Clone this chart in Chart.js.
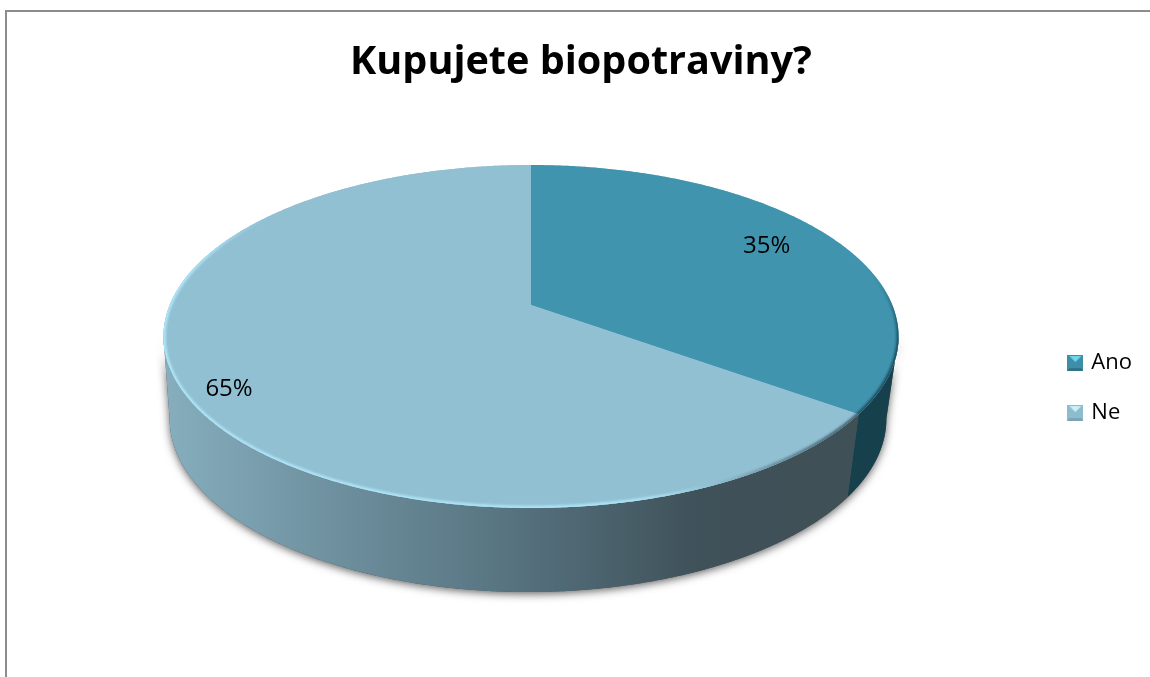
<!DOCTYPE html>
<html><head><meta charset="utf-8">
<style>html,body{margin:0;padding:0;background:#fff;overflow:hidden;width:1150px;height:677px}canvas{display:block}</style>
<script src="https://cdn.jsdelivr.net/npm/chart.js@4"></script>
</head><body><canvas id="c" width="1162" height="677"></canvas>
<script>
const titleText = 'Kupujete biopotraviny?';
const categories = ['Ano', 'Ne'];
const values = [35, 65];
const topColors = ['#4094ae', '#92c0d3'];
const sideColors = ['#17404d', null];
const FONT = '"Open Sans"';

// perspective projection of the pie disc
const G = {cx:531, cy:305, rx:361.3, ry:165.7, k:0.1837, bcx:528, bx:0.975, by:1.01, bcy:387};
function proj(theta, f, bottom){
  const u = Math.sin(theta)*f, v = -Math.cos(theta)*f, d = 1 - G.k*v;
  if (bottom) return [G.bcx + G.bx*G.rx*u/d, G.bcy + G.by*G.ry*v/d];
  return [G.cx + G.rx*u/d, G.cy + G.ry*v/d];
}
function arcPts(ctx, a, b, f, bottom, first){
  const n = Math.max(2, Math.ceil(Math.abs(b-a)/0.008));
  for (let i=0;i<=n;i++){
    const p = proj(a+(b-a)*i/n, f, bottom);
    if (i===0 && first) ctx.moveTo(p[0],p[1]); else ctx.lineTo(p[0],p[1]);
  }
}
const SIDE_A = 100.6*Math.PI/180, SIDE_B = 259.4*Math.PI/180;
const ss=(a,b,x)=>{const t=Math.min(1,Math.max(0,(x-a)/(b-a)));return t*t*(3-2*t);};
const mix=(p,q,t)=>p+(q-p)*t;

function bevel(base, light, dark){
  const s=16, c=document.createElement('canvas'); c.width=c.height=s;
  const x=c.getContext('2d');
  x.fillStyle=base; x.fillRect(0,0,s,s);
  x.fillStyle=dark; x.beginPath(); x.moveTo(0,s); x.lineTo(s,s); x.lineTo(s-2,s-3); x.lineTo(2,s-3); x.closePath(); x.fill();
  x.fillStyle=light; x.beginPath(); x.moveTo(2,1); x.lineTo(s-2,1); x.lineTo(s/2,7); x.closePath(); x.fill();
  return c;
}
const icons = [bevel('#3f8ea8','#6fd6ee','#2f7289'), bevel('#8dbccd','#c9f0f8','#7ba5b5')];

function rimLayer(chart, arcs){
  const r=document.createElement('canvas'); r.width=chart.width; r.height=chart.height;
  const x=r.getContext('2d'); x.lineWidth=4.5; x.lineCap='round';
  const seam=arcs[0].endAngle+Math.PI/2;
  for(let t=1.0;t<6.2;t+=0.01){
    const a=proj(t,1,false), b=proj(t+0.012,1,false);
    let col;
    if(t<seam){
      const al=0.5*ss(1.35,1.95,t);
      col=`rgba(25,70,90,${al})`;
    } else {
      const dark=1-ss(seam,seam+0.75,t);
      const al=mix(0.8,0.45,dark)*(1-ss(4.7,5.4,t));
      const c=[mix(175,50,dark),mix(230,75,dark),mix(248,90,dark)].map(Math.round);
      col=`rgba(${c[0]},${c[1]},${c[2]},${al})`;
    }
    x.strokeStyle=col; x.beginPath(); x.moveTo(a[0],a[1]); x.lineTo(b[0],b[1]); x.stroke();
  }
  return r;
}

const pie3d = {
  id:'pie3d',
  beforeDraw(chart){
    const c=chart.ctx;
    c.save(); c.fillStyle='#fff'; c.fillRect(0,0,chart.width,chart.height);
    c.fillStyle='#8c8c8c'; c.fillRect(5,10,chart.width,2); c.fillRect(5,10,2,chart.height);
    c.restore();
  },
  beforeDatasetDraw(chart, args){
    const c=chart.ctx, arcs=chart.getDatasetMeta(args.index).data;
    const span=a=>[a.startAngle+Math.PI/2, a.endAngle+Math.PI/2];
    c.save();
    // side hull with soft shadow
    c.save();
    c.shadowColor='rgba(60,60,60,0.8)'; c.shadowBlur=8; c.shadowOffsetX=0; c.shadowOffsetY=2;
    c.fillStyle='#555';
    c.beginPath(); arcPts(c,SIDE_A,SIDE_B,1,false,true); arcPts(c,SIDE_B,SIDE_A,1,true,false); c.closePath(); c.fill();
    c.restore();
    // side walls
    const grad=c.createLinearGradient(165,0,850,0);
    grad.addColorStop(0,'#86aebd'); grad.addColorStop(0.27,'#6c8d9c'); grad.addColorStop(0.53,'#54707c');
    grad.addColorStop(0.78,'#3f5159'); grad.addColorStop(1,'#3f5057');
    arcs.forEach((a,i)=>{
      const [s,e]=span(a), A=Math.max(s,SIDE_A), B=Math.min(e,SIDE_B);
      if (B<=A) return;
      c.beginPath(); arcPts(c,A,B,1,false,true); arcPts(c,B,A,1,true,false); c.closePath();
      c.fillStyle=sideColors[i]||grad; c.fill();
    });
    // top faces
    c.beginPath(); arcPts(c,0,Math.PI*2,1,false,true); c.closePath();
    c.fillStyle=topColors[1]; c.fill();
    arcs.forEach(a=>{
      const [s,e]=span(a);
      c.beginPath(); c.moveTo(G.cx,G.cy); arcPts(c,s,e,1,false,false); c.closePath();
      c.fillStyle=a.options.backgroundColor; c.fill();
    });
    // rim highlights, kept inside the disc
    c.save();
    c.beginPath(); arcPts(c,0,Math.PI*2,1,false,true); c.closePath(); c.clip();
    c.filter='blur(0.8px)';
    c.drawImage(rimLayer(chart,arcs),0,0);
    c.restore();
    c.restore();
    return false;
  },
  afterDatasetsDraw(chart){
    const c=chart.ctx, arcs=chart.getDatasetMeta(0).data, o=chart.options.plugins.pie3d;
    c.save();
    c.font=o.size+'px '+FONT; c.fillStyle='#000'; c.textAlign='center'; c.textBaseline='middle';
    arcs.forEach((a,i)=>{
      const mid=(a.startAngle+a.endAngle)/2+Math.PI/2, p=proj(mid,o.radial[i],false);
      c.fillText(values[i]+'%',p[0],p[1]+o.dy[i]);
    });
    c.restore();
  }
};

new Chart(document.getElementById('c'),{
  type:'pie',
  data:{labels:categories,datasets:[{data:values,backgroundColor:topColors,borderWidth:0}]},
  plugins:[pie3d],
  options:{
    responsive:false,animation:false,
    layout:{padding:{top:39,right:20,bottom:0,left:20}},
    events:[],
    plugins:{
      tooltip:{enabled:false},
      pie3d:{size:24,radial:[0.78,0.87],dy:[-4,14]},
      title:{display:true,text:titleText,color:'#000',font:{family:FONT,size:39.6,weight:'bold'},padding:{top:0,bottom:12.5}},
      legend:{position:'right',align:'center',fullSize:false,
        labels:{color:'#000',font:{family:FONT,size:22},boxWidth:10,boxHeight:16,padding:28,usePointStyle:true,
          generateLabels:chart=>categories.map((t,i)=>({text:t,pointStyle:icons[i],fontColor:'#000',hidden:false,index:i,lineWidth:0}))}}
    }
  }
});
</script></body></html>
